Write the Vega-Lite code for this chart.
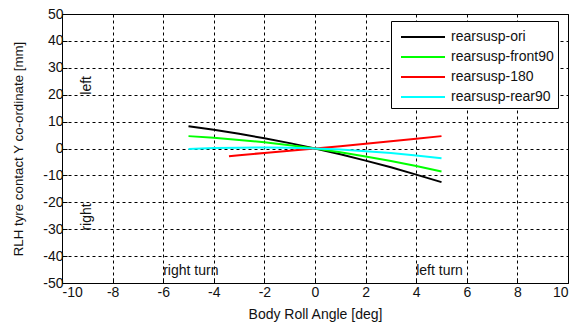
{
  "$schema": "https://vega.github.io/schema/vega-lite/v6.json",
  "width": 506,
  "height": 269,
  "autosize": {"type": "none"},
  "padding": {"left": 62, "top": 14, "right": 8, "bottom": 46},
  "background": "white",
  "config": {
    "font": "Liberation Sans",
    "view": {"stroke": "black", "strokeWidth": 1},
    "axis": {
      "grid": true,
      "gridColor": "black",
      "gridDash": [3, 3],
      "gridOpacity": 1,
      "gridWidth": 1,
      "domain": false,
      "tickColor": "black",
      "tickSize": -5,
      "tickCount": 11,
      "labelFontSize": 14,
      "labelColor": "#111",
      "labelOverlap": false,
      "labelExpr": "'' + datum.value",
      "titleFontSize": 14,
      "titleFontWeight": "normal",
      "titleColor": "#111"
    }
  },
  "datasets": {
    "curves": [
      {"angle": -5, "y": 8.3, "series": "rearsusp-ori"},
      {"angle": -4, "y": 7.0, "series": "rearsusp-ori"},
      {"angle": -3, "y": 5.5, "series": "rearsusp-ori"},
      {"angle": -2, "y": 3.8, "series": "rearsusp-ori"},
      {"angle": -1, "y": 2.0, "series": "rearsusp-ori"},
      {"angle": 0, "y": 0, "series": "rearsusp-ori"},
      {"angle": 1, "y": -2.16, "series": "rearsusp-ori"},
      {"angle": 2, "y": -4.5, "series": "rearsusp-ori"},
      {"angle": 3, "y": -7.0, "series": "rearsusp-ori"},
      {"angle": 4, "y": -9.7, "series": "rearsusp-ori"},
      {"angle": 5, "y": -12.5, "series": "rearsusp-ori"},
      {"angle": -5, "y": 4.6, "series": "rearsusp-front90"},
      {"angle": -4, "y": 4.0, "series": "rearsusp-front90"},
      {"angle": -3, "y": 3.2, "series": "rearsusp-front90"},
      {"angle": -2, "y": 2.3, "series": "rearsusp-front90"},
      {"angle": -1, "y": 1.2, "series": "rearsusp-front90"},
      {"angle": 0, "y": 0, "series": "rearsusp-front90"},
      {"angle": 1, "y": -1.4, "series": "rearsusp-front90"},
      {"angle": 2, "y": -2.95, "series": "rearsusp-front90"},
      {"angle": 3, "y": -4.65, "series": "rearsusp-front90"},
      {"angle": 4, "y": -6.5, "series": "rearsusp-front90"},
      {"angle": 5, "y": -8.55, "series": "rearsusp-front90"},
      {"angle": -3.4, "y": -2.9, "series": "rearsusp-180"},
      {"angle": -3, "y": -2.5, "series": "rearsusp-180"},
      {"angle": -2, "y": -1.65, "series": "rearsusp-180"},
      {"angle": -1, "y": -0.8, "series": "rearsusp-180"},
      {"angle": 0, "y": 0, "series": "rearsusp-180"},
      {"angle": 1, "y": 0.85, "series": "rearsusp-180"},
      {"angle": 2, "y": 1.75, "series": "rearsusp-180"},
      {"angle": 3, "y": 2.7, "series": "rearsusp-180"},
      {"angle": 4, "y": 3.65, "series": "rearsusp-180"},
      {"angle": 5, "y": 4.6, "series": "rearsusp-180"},
      {"angle": -5, "y": -0.2, "series": "rearsusp-rear90"},
      {"angle": -4, "y": 0.15, "series": "rearsusp-rear90"},
      {"angle": -3, "y": 0.3, "series": "rearsusp-rear90"},
      {"angle": -2, "y": 0.4, "series": "rearsusp-rear90"},
      {"angle": -1, "y": 0.3, "series": "rearsusp-rear90"},
      {"angle": 0, "y": 0, "series": "rearsusp-rear90"},
      {"angle": 1, "y": -0.4, "series": "rearsusp-rear90"},
      {"angle": 2, "y": -1.0, "series": "rearsusp-rear90"},
      {"angle": 3, "y": -1.7, "series": "rearsusp-rear90"},
      {"angle": 4, "y": -2.6, "series": "rearsusp-rear90"},
      {"angle": 5, "y": -3.6, "series": "rearsusp-rear90"}
    ],
    "labelsV": [
      {"angle": -9, "y": 20, "text": "left"},
      {"angle": -9, "y": -30.5, "text": "right"}
    ],
    "labelsH": [
      {"angle": -6, "y": -45.5, "text": "right turn"},
      {"angle": 4, "y": -45.5, "text": "left turn"}
    ]
  },
  "layer": [
    {
      "data": {"name": "curves"},
      "mark": {"type": "line", "strokeWidth": 2},
      "encoding": {
        "x": {
          "field": "angle", "type": "quantitative",
          "scale": {"domain": [-10, 10], "nice": false, "zero": false},
          "axis": {"values": [-10, -8, -6, -4, -2, 0, 2, 4, 6, 8, 10], "tickCount": 11, "title": "Body Roll Angle [deg]", "labelPadding": 7, "titlePadding": 8}
        },
        "y": {
          "field": "y", "type": "quantitative",
          "scale": {"domain": [-50, 50], "nice": false},
          "axis": {"values": [-50, -40, -30, -20, -10, 0, 10, 20, 30, 40, 50], "tickCount": 11, "title": "RLH tyre contact Y co-ordinate [mm]", "titleFontSize": 13.3, "labelPadding": 4, "titlePadding": 17}
        },
        "color": {
          "field": "series", "type": "nominal",
          "scale": {
            "domain": ["rearsusp-ori", "rearsusp-front90", "rearsusp-180", "rearsusp-rear90"],
            "range": ["#000000", "#00ff00", "#ff0000", "#00ffff"]
          },
          "legend": {
            "title": null,
            "orient": "none",
            "legendX": 329,
            "legendY": 7,
            "fillColor": "white",
            "strokeColor": "black",
            "padding": 4,
            "symbolType": "M-2,0H2",
            "symbolSize": 484,
            "symbolStrokeWidth": 2,
            "symbolOffset": 16,
            "labelFontSize": 14,
            "labelColor": "#111",
            "labelOffset": 16,
            "rowPadding": 1
          }
        },
        "detail": {"field": "series"}
      }
    },
    {
      "data": {"name": "labelsV"},
      "mark": {"type": "text", "angle": 270, "align": "left", "baseline": "middle", "fontSize": 14, "color": "#111"},
      "encoding": {
        "x": {"field": "angle", "type": "quantitative"},
        "y": {"field": "y", "type": "quantitative"},
        "text": {"field": "text"}
      }
    },
    {
      "data": {"name": "labelsH"},
      "mark": {"type": "text", "align": "left", "baseline": "middle", "fontSize": 14, "color": "#111"},
      "encoding": {
        "x": {"field": "angle", "type": "quantitative"},
        "y": {"field": "y", "type": "quantitative"},
        "text": {"field": "text"}
      }
    }
  ]
}
